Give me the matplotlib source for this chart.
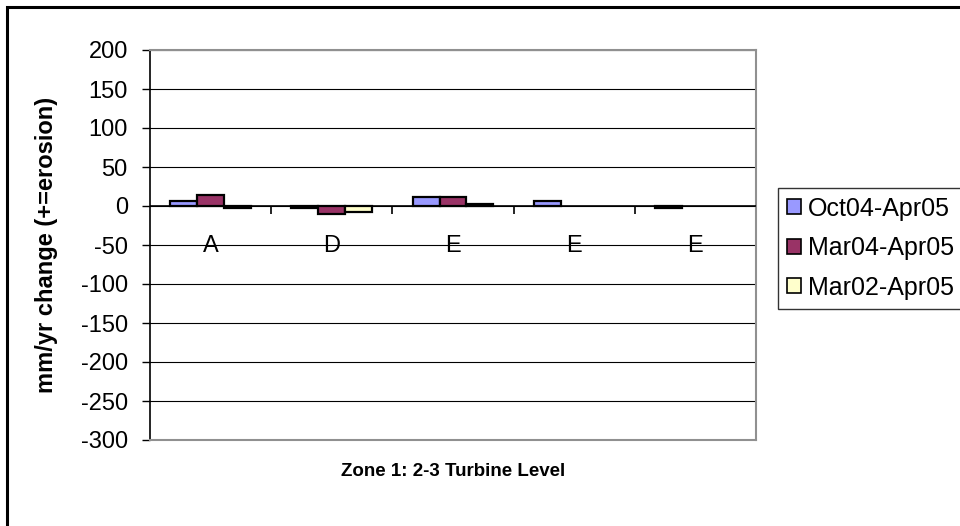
import matplotlib.pyplot as plt
import matplotlib.patches as patches
from matplotlib.transforms import offset_copy
import numpy as np

plt.rcParams['font.family'] = ['Liberation Sans', 'DejaVu Sans']
plt.rcParams['axes.unicode_minus'] = False

# Erosion rates per site, mm/yr (+ = erosion)
sites = ['A', 'D', 'E', 'E', 'E']
series_names = ['Oct04-Apr05', 'Mar04-Apr05', 'Mar02-Apr05']
oct04_apr05 = [6, -3, 11, 6, -3]
mar04_apr05 = [14, -10, 11, 0, 0]
mar02_apr05 = [-3, -8, 3, 0, 0]
series_colors = ['#9999FF', '#993366', '#FFFFCC']
y_ticks = list(range(-300, 201, 50))

W, H = 960, 526
fig = plt.figure(figsize=(W / 100, H / 100), dpi=100)
fig.patch.set_facecolor('white')

# outer chart frame (only left and top edges fall inside the canvas)
frame = patches.Rectangle((7 / W, -0.1), 1.2, 1.1 - 7 / H, transform=fig.transFigure,
                          fill=False, edgecolor='black', linewidth=2.2)
fig.patches.append(frame)

ax = fig.add_axes([150 / W, (H - 440) / H, 606 / W, 390 / H])
ax.set_xlim(0, len(sites))
ax.set_ylim(-300, 200)

n = len(series_names)
bar_w = 1 / (n + 1.5)
x = np.arange(len(sites)) + 0.5
for i, (vals, name, col) in enumerate(zip([oct04_apr05, mar04_apr05, mar02_apr05],
                                         series_names, series_colors)):
    offs = (i - (n - 1) / 2) * bar_w
    bars = ax.bar(x + offs, vals, width=bar_w, color=col, edgecolor='black',
                  linewidth=1.6, label=name, zorder=3)
    for b, v in zip(bars, vals):
        if v == 0:
            b.set_visible(False)

# gridlines
ax.set_yticks(y_ticks)
ax.yaxis.grid(True, color='black', linewidth=0.8, zorder=0)
ax.tick_params(axis='y', length=6, width=1, pad=10, labelsize=17, direction='out')
ax.set_xticks([])

for s in ['top', 'right', 'bottom']:
    ax.spines[s].set_color('#909090')
    ax.spines[s].set_linewidth(1.5)
ax.spines['left'].set_color('black')
ax.spines['left'].set_linewidth(1.2)

# category axis runs along zero, with downward ticks between sites
ax.axhline(0, color='black', linewidth=1.2, zorder=4)
bounds = np.arange(1, len(sites))
ax.plot(bounds, np.zeros_like(bounds), linestyle='none', marker=3, markersize=6,
        color='black', markeredgewidth=1.2, zorder=4)
label_trans = offset_copy(ax.transData, fig=fig, y=-29, units='points')
for xi, lab in zip(x, sites):
    ax.text(xi, 0, lab, transform=label_trans, ha='center', va='center',
            fontsize=17, zorder=5)

ax.set_ylabel('mm/yr change (+=erosion)', fontsize=17, fontweight='bold')
ax.yaxis.set_label_coords(-(150 - 47) / 606, 0.5)
ax.set_xlabel('Zone 1: 2-3 Turbine Level', fontsize=13.5, fontweight='bold')
ax.xaxis.set_label_coords(0.5, -(471 - 440) / 390)
ax.xaxis.label.set_va('center')
ax.yaxis.label.set_va('center')

leg = fig.legend(loc='upper left', bbox_to_anchor=(778 / W, 1 - 188 / H),
                 fontsize=18, frameon=True, fancybox=False, edgecolor='black',
                 handlelength=0.55, handleheight=0.55, handletextpad=0.3,
                 labelspacing=0.62, borderpad=0.35, borderaxespad=0)
leg.get_frame().set_linewidth(1.0)
for h in leg.legend_handles:
    h.set_linewidth(1.2)

fig.savefig('out.png', dpi=100)
